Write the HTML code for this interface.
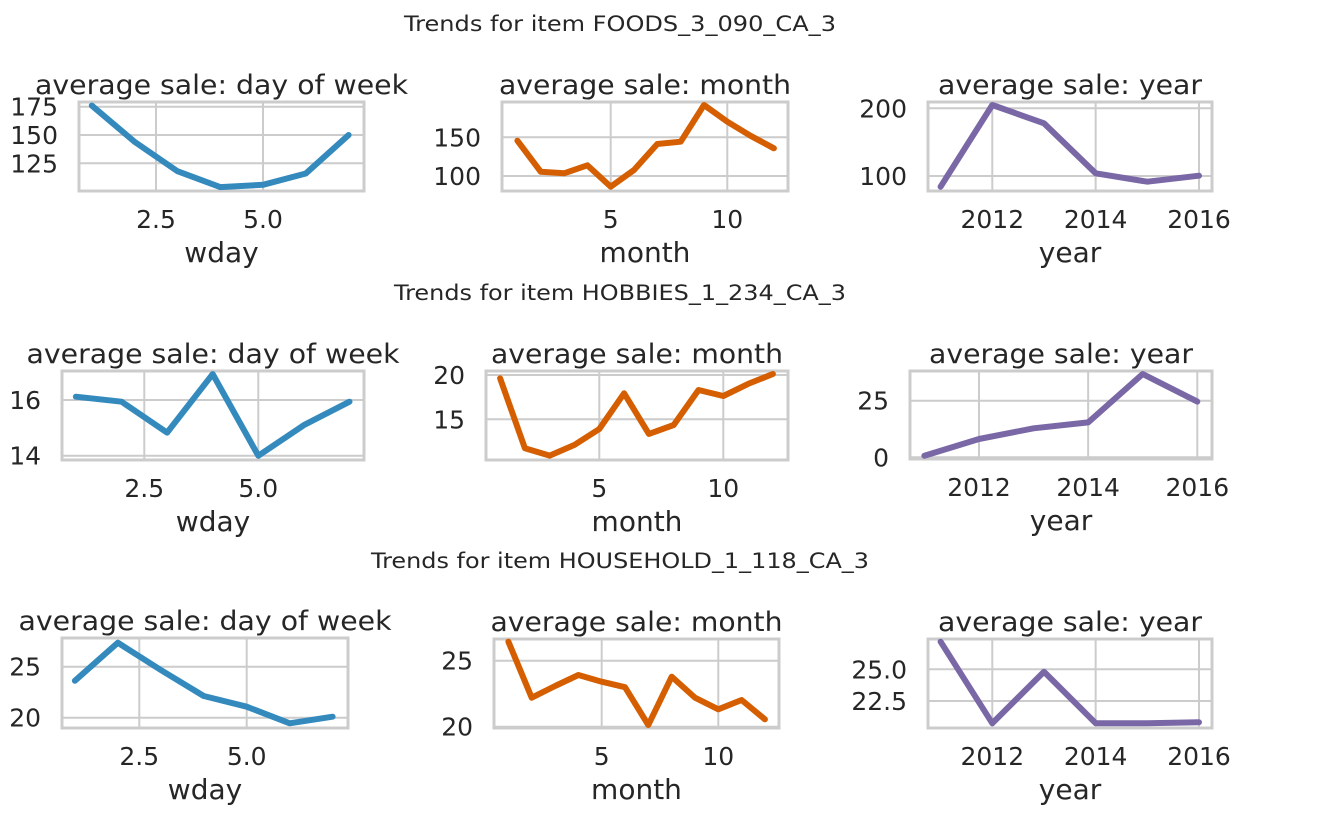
<!DOCTYPE html>
<html><head><meta charset="utf-8"><style>
html,body{margin:0;padding:0;background:#fff;}
svg{display:block;font-family:"DejaVu Sans","Liberation Sans",sans-serif;}
</style></head><body>
<svg id="fig" width="1319" height="813" viewBox="0 0 1319 813" xmlns="http://www.w3.org/2000/svg">
<rect x="0" y="0" width="1319" height="813" fill="#fff"/>
<text x="620" y="31" text-anchor="middle" font-size="21" fill="#262626" textLength="432" lengthAdjust="spacingAndGlyphs">Trends for item FOODS_3_090_CA_3</text>
<text x="620" y="300" text-anchor="middle" font-size="21" fill="#262626" textLength="452" lengthAdjust="spacingAndGlyphs">Trends for item HOBBIES_1_234_CA_3</text>
<text x="620" y="568" text-anchor="middle" font-size="21" fill="#262626" textLength="498" lengthAdjust="spacingAndGlyphs">Trends for item HOUSEHOLD_1_118_CA_3</text>
</svg>
<script>
// ---- data ----
const wdayX = [1,2,3,4,5,6,7];
const monthX = [1,2,3,4,5,6,7,8,9,10,11,12];
const yearX = [2011,2012,2013,2014,2015,2016];
const foodsWday = [176,144,118,104,106,116,150];
const foodsMonth = [145.6,105.6,103.5,113.8,86.2,107.8,141.3,144.3,191.7,170.2,152,135.8];
const foodsYear = [84.2,204.9,177.9,104,91.6,100.4];
const hobbiesWday = [16.12,15.94,14.83,16.93,14.0,15.10,15.94];
const hobbiesMonth = [19.63,11.74,10.9,12.11,13.91,17.94,13.35,14.36,18.31,17.63,18.99,20.11];
const hobbiesYear = [0.7,8.1,12.8,15.4,36.8,24.6];
const householdWday = [23.63,27.35,24.68,22.13,21.08,19.45,20.1];
const householdMonth = [26.44,22.2,23.08,23.92,23.41,22.99,20.13,23.79,22.2,21.32,22.02,20.56];
const householdYear = [27.18,20.74,24.81,20.74,20.74,20.82];
const wdayTicks = [2.5,5.0];
const wdayTickLabels = ["2.5","5.0"];
const monthTicks = [5,10];
const monthTickLabels = ["5","10"];
const yearTicks = [2012,2014,2016];
const yearTickLabels = ["2012","2014","2016"];
const yTicks = [[125,150,175],[100,150],[100,200],[14,16],[15,20],[0,25],[20,25],[20,25],[22.5,25.0]];
const yTickLabels = [["125","150","175"],["100","150"],["100","200"],["14","16"],["15","20"],["0","25"],["20","25"],["20","25"],["22.5","25.0"]];

// ---- layout (pixel frames & axis calibration) ----
const panels = [
 {name:'foods-wday',box:[79,102,364,191],xc:[2.5,156,5,263],yc:[150,135,125,163.3],x:wdayX,y:foodsWday,xt:wdayTicks,xl:wdayTickLabels,lab:'wday',title:'average sale: day of week',tw:373,col:'#348ABD'},
 {name:'foods-month',box:[502,102,788,191],xc:[5,610.7,10,727.3],yc:[150,137.3,100,176],x:monthX,y:foodsMonth,xt:monthTicks,xl:monthTickLabels,lab:'month',title:'average sale: month',tw:292,col:'#D55E00'},
 {name:'foods-year',box:[928,102,1212,191],xc:[2012,992.3,2016,1199],yc:[200,108.3,100,176],x:yearX,y:foodsYear,xt:yearTicks,xl:yearTickLabels,lab:'year',title:'average sale: year',tw:264,col:'#7A68A6'},
 {name:'hobbies-wday',box:[62,371,364,460],xc:[2.5,144.3,5,258.3],yc:[16,400,14,455.7],x:wdayX,y:hobbiesWday,xt:wdayTicks,xl:wdayTickLabels,lab:'wday',title:'average sale: day of week',tw:373,col:'#348ABD'},
 {name:'hobbies-month',box:[486,371,788,460],xc:[5,599.3,10,723.3],yc:[20,375,15,419.3],x:monthX,y:hobbiesMonth,xt:monthTicks,xl:monthTickLabels,lab:'month',title:'average sale: month',tw:292,col:'#D55E00'},
 {name:'hobbies-year',box:[910,371,1212,459],xc:[2012,979,2016,1197.3],yc:[25,400.7,0,457.3],x:yearX,y:hobbiesYear,xt:yearTicks,xl:yearTickLabels,lab:'year',title:'average sale: year',tw:264,col:'#7A68A6'},
 {name:'household-wday',box:[62,638,348,728],xc:[2.5,139.3,5,246.7],yc:[25,666.7,20,717.7],x:wdayX,y:householdWday,xt:wdayTicks,xl:wdayTickLabels,lab:'wday',title:'average sale: day of week',tw:373,col:'#348ABD'},
 {name:'household-month',box:[494,639,779,728],xc:[5,601.7,10,718.3],yc:[25,660.7,20,726.7],x:monthX,y:householdMonth,xt:monthTicks,xl:monthTickLabels,lab:'month',title:'average sale: month',tw:292,col:'#D55E00'},
 {name:'household-year',box:[928,639,1212,728],xc:[2012,992.3,2016,1199],yc:[25,669.3,22.5,701],x:yearX,y:householdYear,xt:yearTicks,xl:yearTickLabels,lab:'year',title:'average sale: year',tw:264,col:'#7A68A6'}
];
const NS='http://www.w3.org/2000/svg';
const fig=document.getElementById('fig');
function mk(tag,attrs,parent){const e=document.createElementNS(NS,tag);for(const k in attrs)e.setAttribute(k,attrs[k]);(parent||fig).appendChild(e);return e;}
panels.forEach((p,i)=>{
  const [l,t,r,b]=p.box;
  const sx=v=>p.xc[1]+(v-p.xc[0])*(p.xc[3]-p.xc[1])/(p.xc[2]-p.xc[0]);
  const sy=v=>p.yc[1]+(v-p.yc[0])*(p.yc[3]-p.yc[1])/(p.yc[2]-p.yc[0]);
  const g=mk('g',{});
  
  
  mk('rect',{x:l,y:t,width:r-l,height:b-t,fill:'#fff'},g);
  p.xt.forEach((v,j)=>{
    const X=sx(v);
    mk('line',{x1:X,x2:X,y1:t,y2:b,stroke:'#cccccc','stroke-width':2},g);
    const tx=mk('text',{x:X,y:b+37,'text-anchor':'middle','font-size':25,fill:'#262626'},g);
    tx.textContent=p.xl[j];
    
    
  });
  yTicks[i].forEach((v,j)=>{
    const Y=sy(v);
    mk('line',{x1:l,x2:r,y1:Y,y2:Y,stroke:'#cccccc','stroke-width':2},g);
    const ty=mk('text',{x:l-21,y:Y+9,'text-anchor':'end','font-size':25,fill:'#262626'},g);
    ty.textContent=yTickLabels[i][j];
    
    
  });
  mk('rect',{x:l,y:t,width:r-l,height:b-t,fill:'none',stroke:'#cccccc','stroke-width':3},g);
  const pts=p.x.map((v,j)=>sx(v).toFixed(1)+','+sy(p.y[j]).toFixed(1)).join(' ');
  const line=mk('polyline',{points:pts,fill:'none',stroke:p.col,'stroke-width':6,'stroke-linejoin':'round','stroke-linecap':'round'},g);
  
  
  const tt=mk('text',{x:(l+r)/2,y:t-8,'text-anchor':'middle','font-size':27,fill:'#262626',textLength:p.tw,lengthAdjust:'spacingAndGlyphs'},g);
  tt.textContent=p.title;
  
  
  const xl=mk('text',{x:(l+r)/2,y:b+71,'text-anchor':'middle','font-size':28,fill:'#262626'},g);
  xl.textContent=p.lab;
  
  
});
</script>
</body></html>
